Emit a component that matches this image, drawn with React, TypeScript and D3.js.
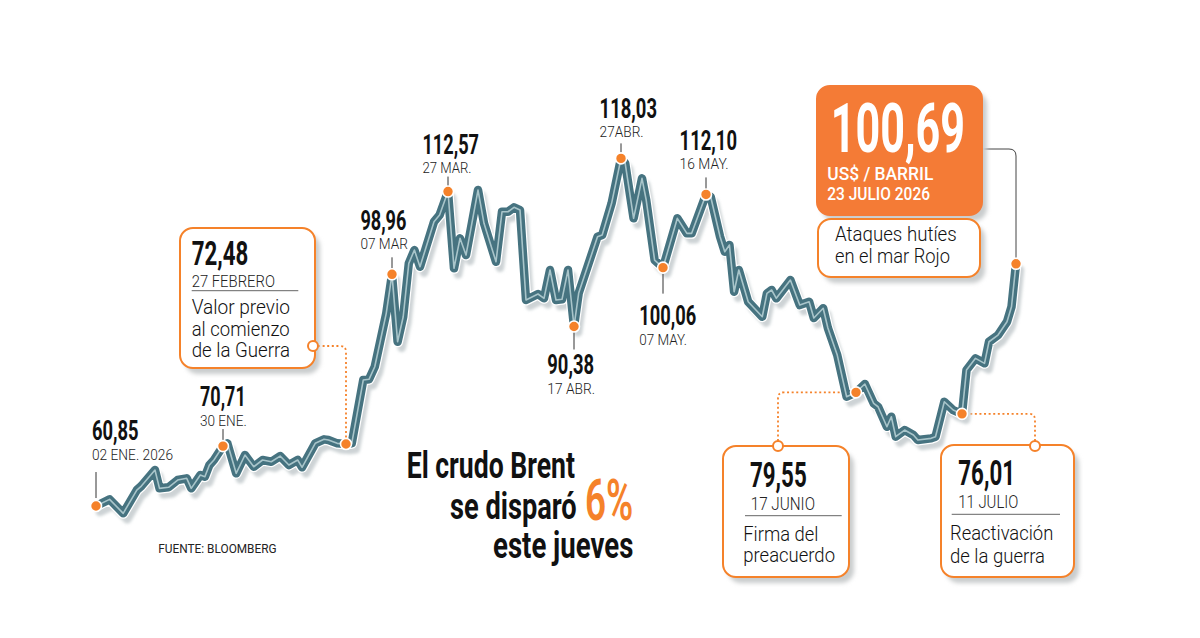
import React from "react";
import * as d3 from "d3";

// Brent, US$ por barril
const dates = [
  "01-02", "01-05", "01-08", "01-11", "01-12", "01-15", "01-16", "01-18", "01-20", "01-22",
  "01-23", "01-25", "01-26", "01-27", "01-28", "01-30", "01-31", "02-02", "02-04", "02-06",
  "02-08", "02-10", "02-12", "02-14", "02-16", "02-17", "02-20", "02-22", "02-23", "02-25",
  "02-27", "02-28", "03-02", "03-03", "03-04", "03-06", "03-07", "03-09", "03-11", "03-13",
  "03-15", "03-17", "03-22", "03-24", "03-27", "03-28", "03-29", "03-30", "04-01", "04-02",
  "04-04", "04-05", "04-06", "04-07", "04-08", "04-09", "04-11", "04-12", "04-13", "04-14",
  "04-15", "04-16", "04-17", "04-18", "04-22", "04-23", "04-25", "04-27", "04-28", "04-30",
  "05-02", "05-03", "05-05", "05-07", "05-10", "05-12", "05-13", "05-16", "05-17", "05-19",
  "05-20", "05-21", "05-22", "05-23", "05-25", "05-26", "05-28", "05-29", "05-30", "05-31",
  "06-03", "06-05", "06-07", "06-08", "06-10", "06-11", "06-13", "06-15", "06-17", "06-19",
  "06-21", "06-22", "06-24", "06-25", "06-26", "06-28", "06-30", "07-01", "07-04", "07-05",
  "07-07", "07-09", "07-11", "07-12", "07-14", "07-16", "07-17", "07-19", "07-21", "07-22",
  "07-23",
];
const prices = [
  60.85, 61.95, 59.65, 63.48, 64.14, 66.77, 63.76, 63.93, 65.13, 65.41,
  63.76, 65.95, 65.67, 67.59, 68.42, 70.71, 71.16, 66.23, 69.24, 67.31,
  68.42, 68.14, 69.07, 67.59, 68.42, 67.22, 71.16, 71.82, 71.71, 71.16,
  71.05, 71.16, 81.57, 81.69, 83.76, 92.54, 98.96, 87.87, 91.98, 100.77,
  102.95, 100.21, 107.61, 108.71, 112.57, 99.95, 104.88, 102.13, 112.82, 107.35,
  101.03, 109.25, 109.25, 109.98, 109.53, 94.73, 95.72, 95.01, 99.67, 94.73,
  94.85, 99.67, 90.38, 95.88, 105.14, 105.42, 110.64, 118.03, 117.22, 108.17,
  114.75, 111.18, 101.31, 100.06, 108.17, 105.7, 105.7, 112.1, 111.72, 105.14,
  102.68, 103.78, 96.1, 99.67, 94.45, 93.63, 91.98, 95.83, 96.38, 95.01,
  98.02, 93.91, 94.45, 91.77, 93.37, 90.13, 85.68, 78.83, 79.55, 80.92,
  77.74, 77.18, 73.89, 75.54, 72.25, 73.35, 72.53, 71.7, 71.98, 72.25,
  78.0, 76.64, 76.01, 83.22, 85.14, 84.32, 87.87, 88.97, 91.16, 93.63,
  100.69,
];

// Hitos anotados
const annoDates = ["01-02", "01-30", "02-27", "03-07", "03-27", "04-17", "04-27", "05-07", "05-16", "06-17", "07-11", "07-23"];
const annoValues = ["60,85", "70,71", "72,48", "98,96", "112,57", "90,38", "118,03", "100,06", "112,10", "79,55", "76,01", "100,69"];
const annoLabels = ["02 ENE. 2026", "30 ENE.", "27 FEBRERO", "07 MAR", "27 MAR.", "17 ABR.", "27ABR.", "07 MAY.", "16 MAY.", "17 JUNIO", "11 JULIO", "23 JULIO 2026"];

const W = 1200;
const H = 638;
const ORANGE = "#f5822a";
const TEAL = "#467380";
const FONT = "Roboto, 'Noto Sans', sans-serif";

const parse = (s: string) => d3.timeParse("%Y-%m-%d")("2026-" + s) as Date;

// the original axis is not linear in time: piecewise time scale anchored on the milestones
const x = d3.scaleTime<number>()
  .domain(annoDates.map(parse))
  .range([96, 223, 346, 392, 448, 574, 621, 663, 706, 856, 962, 1016]);
const y = d3.scaleLinear().domain([60, 120]).range([511.2, 146.4]);

const series = dates.map((d, i) => ({ date: parse(d), value: prices[i] }));
const line = d3.line<{ date: Date; value: number }>()
  .x(d => x(d.date))
  .y(d => y(d.value));

const pt = (i: number) => {
  const d = parse(annoDates[i]);
  const p = series.find(s => +s.date === +d)!;
  return { x: x(p.date), y: y(p.value) };
};

type TProps = {
  x: number; y: number; size: number; w?: number; weight?: number;
  fill?: string; anchor?: "start" | "middle" | "end"; children: React.ReactNode;
};
const T = ({ x, y, size, w, weight = 400, fill = "#111", anchor = "start", children }: TProps) => (
  <text
    x={x} y={y} fontSize={size} fontWeight={weight} fill={fill} textAnchor={anchor}
    fontFamily={FONT}
    textLength={w} lengthAdjust={w ? "spacingAndGlyphs" : undefined}
  >{children}</text>
);

// simple labels, offsets relative to the dot
const simple: [number, number, number, number, number, number, number, number][] = [
  // i, dx, numDy, dateDy, l1, l2, numW, dateW
  [0, -4, -66, -46, -34, -8, 46.6, 81],
  [1, -23, -40, -20, -17, -6, 45.7, 46.7],
  [3, -31.6, -44, -25, -17, -6, 46, 47.6],
  [4, -25.6, -38, -19, -15, -5, 56.6, 49],
  [5, -26.7, 48, 68, 5, 23, 46.7, 47.7],
  [6, -21.4, -40, -21, -15, -5, 57.4, 44],
  [7, -23.7, 57, 77, 6, 26, 57, 47.7],
  [8, -26.4, -44, -25, -17, -5, 57.4, 49],
];

const Box = ({ x: bx, y: by, w, h, fill = "#fff", stroke = ORANGE }: { x: number; y: number; w: number; h: number; fill?: string; stroke?: string }) => (
  <g>
    <rect x={bx + 5} y={by + 6} width={w} height={h} rx={13} fill="#c9cccd" filter="url(#blur)" />
    <rect x={bx} y={by} width={w} height={h} rx={13} fill={fill} stroke={stroke} strokeWidth={2} />
  </g>
);

const OpenDot = ({ cx, cy }: { cx: number; cy: number }) => (
  <circle cx={cx} cy={cy} r={5} fill="#fff" stroke={ORANGE} strokeWidth={2} />
);

export default function App() {
  const p272 = pt(2);
  const p79 = pt(9);
  const p76 = pt(10);
  const p100 = pt(11);
  const d = line(series) || "";

  return (
    <svg width={W} height={H} viewBox={`0 0 ${W} ${H}`}
      style={{ position: "fixed", left: 0, top: 0, background: "#fff" }}>
      <defs>
        <filter id="blur" x="-20%" y="-20%" width="140%" height="140%">
          <feGaussianBlur stdDeviation={2} />
        </filter>
        <filter id="soft" x="-5%" y="-5%" width="110%" height="110%">
          <feGaussianBlur stdDeviation={1.6} />
        </filter>
      </defs>

      {/* connectors */}
      <path d={`M318,346 H${p272.x - 6} Q${p272.x},346 ${p272.x},352 V${p272.y - 6}`}
        fill="none" stroke={ORANGE} strokeWidth={1.8} strokeDasharray="2 2.6" />
      <path d={`M778,441 V${p79.y + 6} Q778,${p79.y} 784,${p79.y} H${p79.x - 6}`}
        fill="none" stroke={ORANGE} strokeWidth={1.8} strokeDasharray="2 2.6" />
      <path d={`M1035,441 V${p76.y + 6} Q1035,${p76.y} 1029,${p76.y} H${p76.x + 6}`}
        fill="none" stroke={ORANGE} strokeWidth={1.8} strokeDasharray="2 2.6" />
      <path d={`M982,149 H${p100.x - 7} Q${p100.x},149 ${p100.x},156 V${p100.y - 6}`}
        fill="none" stroke="#444" strokeWidth={1} />

      {/* price line */}
      <path d={d} transform="translate(4,6)" fill="none" stroke="#cdd3d5" strokeWidth={8.5}
        strokeLinejoin="round" strokeLinecap="round" filter="url(#soft)" />
      <path d={d} fill="none" stroke="#fff" strokeWidth={11} strokeLinejoin="round" strokeLinecap="round" />
      <path d={d} fill="none" stroke={TEAL} strokeWidth={8.5} strokeLinejoin="round" strokeLinecap="round" />
      <path d={d} fill="none" stroke="#a9c5ca" strokeWidth={1.6} strokeLinejoin="round" strokeLinecap="round" />

      {/* simple annotations */}
      {simple.map(([i, dx, nDy, dDy, l1, l2, nW, dW]) => {
        const p = pt(i);
        return (
          <g key={i}>
            <line x1={p.x} x2={p.x} y1={p.y + l1} y2={p.y + l2} stroke="#333" strokeWidth={1} />
            <T x={p.x + dx} y={p.y + nDy} size={27} weight={700} w={nW}>{annoValues[i]}</T>
            <T x={p.x + dx} y={p.y + dDy} size={15.5} weight={300} w={dW} fill="#222">{annoLabels[i]}</T>
          </g>
        );
      })}

      {/* milestone dots */}
      {annoDates.map((_, i) => {
        const p = pt(i);
        return <circle key={i} cx={p.x} cy={p.y} r={5.5} fill={ORANGE} stroke="#fff" strokeWidth={1.6} />;
      })}

      {/* box: 72,48 */}
      <Box x={180} y={228} w={135} h={140} />
      <T x={191.7} y={265} size={34} weight={700} w={56.6}>{annoValues[2]}</T>
      <T x={191.7} y={286.7} size={16.5} weight={300} w={83.3} fill="#222">{annoLabels[2]}</T>
      <line x1={191.7} x2={298.3} y1={290.7} y2={290.7} stroke="#666" strokeWidth={1} />
      <T x={191.7} y={314} size={20} weight={300} w={98.3}>Valor previo</T>
      <T x={191.7} y={335.5} size={20} weight={300} w={98}>al comienzo</T>
      <T x={191.7} y={357} size={20} weight={300} w={98.3}>de la Guerra</T>
      <OpenDot cx={313} cy={346} />

      {/* box: 79,55 */}
      <Box x={723} y={446} w={126} h={131} />
      <T x={750} y={486.7} size={35} weight={700} w={56.7}>{annoValues[9]}</T>
      <T x={750.7} y={510} size={17.5} weight={300} w={64.3} fill="#222">{annoLabels[9]}</T>
      <line x1={745} x2={841.7} y1={515.7} y2={515.7} stroke="#666" strokeWidth={1} />
      <T x={743.3} y={541} size={20} weight={300} w={75}>Firma del</T>
      <T x={743.3} y={562} size={20} weight={300} w={91.7}>preacuerdo</T>
      <OpenDot cx={778} cy={446} />

      {/* box: 76,01 */}
      <Box x={941} y={445} w={133} h={132} />
      <T x={958.3} y={485} size={35} weight={700} w={56.7}>{annoValues[10]}</T>
      <T x={958.3} y={508.3} size={17.5} weight={300} w={60} fill="#222">{annoLabels[10]}</T>
      <line x1={951.7} x2={1060} y1={514.3} y2={514.3} stroke="#666" strokeWidth={1} />
      <T x={950} y={540} size={20} weight={300} w={103.3}>Reactivación</T>
      <T x={950} y={562.5} size={20} weight={300} w={95}>de la guerra</T>
      <OpenDot cx={1035} cy={446} />

      {/* box: 100,69 */}
      <Box x={817} y={86} w={165} h={129} fill="#f47b36" stroke="#f47b36" />
      <T x={830.7} y={151.7} size={68} weight={700} w={134.3} fill="#fff">{annoValues[11]}</T>
      <T x={827.3} y={180} size={18} weight={500} w={106} fill="#fff">US$ / BARRIL</T>
      <T x={827.3} y={200} size={18} weight={500} w={102.7} fill="#fff">{annoLabels[11]}</T>
      <Box x={818} y={219} w={162} h={58} />
      <T x={835} y={241} size={20} weight={300} w={121.7}>Ataques hutíes</T>
      <T x={835} y={262.7} size={20} weight={300} w={115}>en el mar Rojo</T>

      {/* headline */}
      <T x={406.7} y={478.3} size={37} weight={700} w={168.3}>El crudo Brent</T>
      <T x={450} y={519} size={37} weight={700} w={126.7}>se disparó</T>
      <T x={585} y={520} size={58} weight={600} w={48.3} fill={ORANGE}>6%</T>
      <T x={493} y={558.3} size={37} weight={700} w={140.3}>este jueves</T>

      <T x={158.3} y={553.3} size={13} weight={400} w={118.3} fill="#222">FUENTE: BLOOMBERG</T>
    </svg>
  );
}
